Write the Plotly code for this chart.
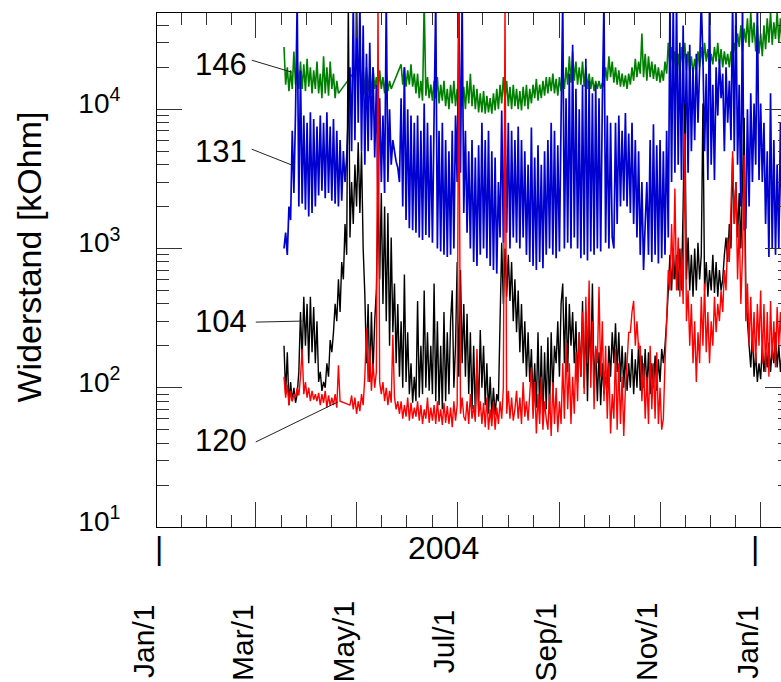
import math
import pandas as pd
import plotly.graph_objects as go

# Daily readings of four resistance sensors, starting 18 March 2004 (kOhm).
# None marks logger outages; the line is bridged across them.
series_start = "2004-03-18"

sensor_131 = [
    1000, 1300, 900, 2000, 1600, 7000, 2500, 9500, 60000, 2000,
    19000, 2100, 9000, 1900, 8000, 1700, 9500, 1800, 8500, 2000,
    7500, 2400, 9000, 2600, 8000, 2300, 9500, 2500, 7500, 2200,
    8500, 2100, 7000, 2000, 6000, 2200, 5000, 3000, 4500, 9000,
    20000, 5000, 60000, 6000, 60000, 8000, 60000, 5000, 40000, 4000,
    25000, 5000, 30000, 6000, 20000, 4500, 15000, 2200, 12000, 3000,
    9000, 2500, 60000, 3000, 10000, 4000, 6000, 5000, 4200, 3800,
    3000, 12000, 2000, 20000, 1600, 10000, 1400, 9000, 1350, 8000,
    1300, 9000, 1200, 7000, 1150, 11000, 1250, 8000, 1200, 6500,
    1100, 9000, 60000, 1000, 7000, 950, 8000, 900, 6000, 870,
    5000, 900, 7000, 1000, 9000, 3000, 60000, 3500, 60000, 1800,
    7000, 1300, 5000, 1000, 6000, 800, 4500, 750, 5500, 900,
    8000, 1000, 6000, 850, 7000, 750, 5000, 700, 4500, 660,
    3000, 1200, 9800, 1100, 9000, 1300, 8000, 1000, 7000, 1200,
    6000, 1100, 7500, 1000, 6000, 1200, 5000, 900, 4000, 800,
    7400, 750, 4500, 700, 5500, 800, 4000, 720, 5000, 900,
    6000, 1000, 8000, 900, 7000, 850, 5500, 950, 8500, 60000,
    1000, 12000, 1100, 18000, 1000, 29000, 1200, 14000, 1000, 10000,
    850, 15000, 900, 23000, 820, 16000, 950, 13000, 900, 15000,
    1000, 12000, 950, 11000, 60000, 1100, 9000, 1000, 8000, 1200,
    1000, 8000, 1500, 9000, 2000, 7000, 2200, 9400, 2000, 6700,
    1800, 8000, 1500, 6000, 1200, 5000, 900, 3000, 700, 1500,
    3000, 900, 6000, 800, 7800, 900, 5500, 780, 6000, 850,
    5000, 900, 7000, 1200, 60000, 3000, 60000, 3500, 60000, 4000,
    30000, 3100, 40000, 4000, 25000, 3500, 29000, 5000, 20000, 6000,
    25000, 8000, 20000, 60000, 23000, 5000, 18000, 3100, 60000, 4000,
    15000, 3100, 20000, 9000, 23000, 12000, 18000, 5000, 20000, 8000,
    16000, 6000, 60000, 5000, 60000, 4000, 15000, 2000, 60000, 1350,
    1400, 10000, 2000, 13000, 3000, 11000, 4000, 60000, 3100, 11000,
    3000, 8000, 1500, 5000, 870, 13000, 1000, 6000, 900, 4000,
    1000, 8000, 1200, 10000, 1500, 9000, 2000, 7000,
]

sensor_146 = [
    28000, 15000, 20000, 13500, 19000, 14000, 26000, 15000, 22000, 14000,
    22000, 14000, 21000, 13500, 23000, 14500, 20000, 13000, 19000, 14000,
    22000, 13000, 18000, 12000, 24000, 13000, 20000, 12500, 22000, 14000,
    18000, 12000, 16000, 13000, None, None, None, None, None, None,
    None, None, None, None, None, None, 21000, 14000, 19000, 13000,
    20000, 13500, 18000, 13000, 20000, 14000, 17000, 13000, 19000, 14000,
    17000, 13000, 18000, 13500, 16000, 14000, 15000, None, None, None,
    None, 21000, 15000, 20000, 14500, 19000, 15000, 21000, 14500, 18000,
    13000, 18000, 12000, 16000, 11500, 60000, 12500, 17000, 12000, 15000,
    11500, 16000, 12000, 17000, 11000, 15000, 11500, 16000, 10500, 14000,
    10000, 15000, 11000, 16000, 10500, 14000, 9800, 15000, 10500, 14500,
    10000, 16000, 11000, 18000, 10500, 15000, 10000, 14000, 9500, 13000,
    9500, 13500, 9300, 12500, 9500, 12000, 9300, 13000, 9800, 14000,
    10000, 15000, 11000, 17000, 11500, 16000, 10500, 14500, 10000, 15000,
    10500, 14000, 10000, 13500, 9800, 14500, 10500, 15000, 10000, 14000,
    11000, 15000, 12000, 16500, 11500, 15000, 12000, 16000, 12500, 17000,
    13000, 17000, 13500, 18000, 13000, 16500, 12500, 17000, 13500, 18000,
    14000, 20000, 15000, 24000, 15500, 26000, 16000, 22000, 15000, 20000,
    15000, 22000, 14500, 20000, 14000, 18000, 14000, 17000, 13500, 16000,
    14000, 16000, 14000, 15500, 14500, 20000, 16000, 24000, 17000, 22000,
    15500, 20000, 15000, 19000, 14500, 18000, 14500, 17500, 14000, 18000,
    15000, 20000, 16000, 23000, 17000, 22000, 18000, 35000, 17000, 25000,
    16000, 24000, 17000, 22000, 16500, 21000, 16000, 20000, 15500, 19000,
    16000, 22000, 18000, 30000, 20000, 28000, 19000, 26000, 18000, 25000,
    18000, 28000, 20000, 30000, 19000, 26000, 18500, 24000, 18000, 23000,
    19000, 26000, 20000, 28000, 21000, 30000, 22000, 27000, 20000, 25000,
    21000, 28000, 22000, 30000, 21000, 27000, 20000, 26000, 21000, 25000,
    20000, 26000, 22000, 30000, 25000, 35000, 28000, 40000, 26000, 38000,
    30000, 45000, 28000, 50000, 30000, 42000, 26000, 40000, 25000, 35000,
    24000, 40000, 27000, 45000, 30000, 50000, 29000, 42000, 32000, 50000,
    30000, 45000, 28000, 40000, 30000, 48000, 32000, 45000,
]

sensor_104 = [
    200, 90, 180, 75, 110, 80, 100, 78, 90, 130,
    350, 160, 450, 200, 400, 150, 450, 180, 380, 150,
    300, 110, 130, 95, 110, 100, 150, 120, 220, 180,
    250, 400, 300, 600, 350, 800, 600, 1500, 900, 60000,
    1200, 3000, 1500, 4000, 2000, 5800, 1800, 5000, 1000, 470,
    150, 400, 110, 350, 130, 300, 500, 2200, 600, 2500,
    400, 2000, 300, 1800, 200, 1200, 250, 560, 150, 400,
    120, 300, 100, 650, 110, 250, 90, 150, 78, 120,
    80, 420, 85, 200, 90, 500, 100, 250, 95, 200,
    90, 560, 80, 300, 75, 200, 70, 350, 80, 250,
    90, 300, 500, 100, 200, 800, 120, 700, 150, 400,
    120, 340, 90, 250, 70, 200, 65, 150, 70, 260,
    100, 200, 75, 150, 65, 120, 62, 100, 64, 90,
    80, 300, 1100, 400, 1000, 450, 900, 420, 800, 300,
    600, 250, 500, 180, 400, 150, 300, 120, 250, 110,
    190, 80, 150, 72, 250, 65, 200, 60, 180, 70,
    230, 65, 250, 90, 200, 150, 300, 120, 400, 560,
    150, 450, 130, 400, 200, 350, 150, 300, 110, 250,
    120, 420, 100, 350, 80, 300, 150, 560, 100, 190,
    80, 180, 75, 150, 90, 120, 100, 200, 120, 250,
    150, 290, 130, 250, 110, 200, 100, 180, 95, 150,
    100, 190, 90, 160, 100, 210, 95, 170, 100, 190,
    95, 180, 90, 150, 100, 170, 95, 160, 110, 190,
    150, 200, 300, 500, 900, 500, 1000, 600, 900, 500,
    1000, 500, 2000, 11000, 600, 1200, 500, 900, 450, 1000,
    500, 1100, 600, 900, 11000, 500, 800, 450, 700, 500,
    900, 480, 800, 450, 700, 500, 600, 900, 1200, 800,
    1500, 1000, 4500, 1500, 3000, 1200, 2500, 1000, 3000, 8700,
    500, 300, 200, 140, 250, 120, 180, 110, 150, 115,
    200, 130, 180, 140, 210, 130, 190, 150, 250, 140,
    200, 130, 180, 150, 200, 140, 180, 150,
]

sensor_120 = [
    120, 85, 105, 75, 95, 80, 90, 85, 100, 88,
    120, 190, 90, 110, 85, 100, 80, 95, 82, 90,
    80, 92, 75, 90, 78, 95, 72, 88, 74, 85,
    75, 90, 72, 145, 80, None, None, None, None, None,
    75, 88, 70, 85, 65, 80, 68, 90, 75, 120,
    270, 110, 200, 95, 150, 100, 130, 60000, 110, 90,
    110, 80, 100, 75, 95, 78, 240, 85, 70, 80,
    65, 80, 60, 75, 62, 85, 58, 78, 60, 72,
    62, 80, 58, 75, 55, 70, 60, 85, 56, 72,
    58, 75, 55, 80, 57, 70, 54, 78, 56, 74,
    55, 72, 52, 80, 58, 75, 60000, 65, 85, 62,
    58, 80, 55, 90, 60, 75, 57, 190, 62, 80,
    55, 78, 52, 85, 50, 70, 53, 80, 50, 72,
    55, 80, 60, 100, 60000, 65, 95, 60, 85, 58,
    70, 95, 60, 85, 55, 110, 62, 80, 58, 90,
    140, 60, 110, 47, 90, 55, 120, 50, 80, 60,
    50, 90, 45, 110, 55, 100, 48, 80, 55, 150,
    60, 210, 70, 150, 55, 120, 65, 180, 80, 250,
    120, 350, 90, 450, 150, 590, 100, 300, 70, 200,
    150, 530, 120, 300, 80, 200, 60, 150, 47, 90,
    60, 190, 50, 150, 55, 120, 45, 100, 150, 250,
    250, 350, 420, 200, 300, 190, 200, 80, 150, 60,
    120, 55, 200, 70, 150, 60, 180, 55, 100, 50,
    60, 150, 300, 700, 500, 1500, 600, 2700, 500, 1200,
    450, 1000, 400, 6700, 300, 500, 200, 400, 150, 300,
    110, 250, 150, 450, 200, 560, 180, 350, 150, 300,
    200, 450, 250, 400, 300, 500, 350, 700, 500, 1200,
    800, 2000, 5000, 1500, 3000, 600, 1500, 400, 900, 4700,
    300, 560, 200, 450, 180, 350, 150, 400, 200, 500,
    150, 400, 130, 350, 120, 420, 160, 300, 140, 380,
    200, 350, 150, 400, 180, 300, 160, 350,
]

# Sensor labels with the point their leader line points at
label_names = ["146", "131", "104", "120"]
label_dates = ["2004-03-22 17:00", "2004-03-24 12:00", "2004-03-28 19:00", "2004-04-19 14:00"]
label_values = [18450, 3900, 301, 79]
leader_dx = [-40, -43, -46, -82]      # tail offset from the pointed-at spot, px
leader_dy = [-12, -17, 1, 40]         # px, positive = downward
text_dx = [-70.5, -73.5, -81, -117]
text_dy = [8, 15, 0, -39]

# Axis ticks
month_ticks = ["2004-01-01", "2004-03-01", "2004-05-01", "2004-07-01",
               "2004-09-01", "2004-11-01", "2005-01-01"]
month_labels = ["Jan/1", "Mar/1", "May/1", "Jul/1", "Sep/1", "Nov/1", "Jan/1"]
decade_ticks = [10, 100, 1000, 10000]
decade_labels = ["10<sup>1</sup>", "10<sup>2</sup>", "10<sup>3</sup>", "10<sup>4</sup>"]
year_label = "2004"

x_range = ["2004-01-01", "2005-01-18 19:00"]
y_range = [1, 4.691]

# Minor date ticks split each two-month interval into quarters
edges = [pd.Timestamp(t) for t in month_ticks] + [pd.Timestamp("2005-03-01")]
minor_x = []
for a, b in zip(edges[:-1], edges[1:]):
    for k in (1, 2, 3):
        minor_x.append(a + (b - a) * k / 4)
minor_y = [m * 10 ** d for d in range(1, 5) for m in range(2, 10)]

W, H = 800, 682
ML, MR, MT, MB = 157, 10, 13, 155
plot_w = W - ML - MR
plot_h = H - MT - MB

font = "Liberation Sans, Arial, sans-serif"
fig = go.Figure()

traces = [
    (sensor_146, "#008000", "146", 1.6),
    (sensor_131, "#0000d0", "131", 1.7),
    (sensor_104, "#000000", "104", 1.4),
    (sensor_120, "#ff0000", "120", 1.4),
]
for values, color, name, lw in traces:
    dates = pd.date_range(series_start, periods=len(values), freq="D")
    fig.add_trace(go.Scatter(
        x=dates, y=values, mode="lines", name=name,
        line=dict(color=color, width=lw, simplify=False), connectgaps=True,
        hoverinfo="skip",
    ))


def to_paper(d, v):
    """Position of a (date, value) pair as a fraction of the plot area."""
    t0, t1 = pd.Timestamp(x_range[0]), pd.Timestamp(x_range[1])
    px = (pd.Timestamp(d) - t0) / (t1 - t0)
    py = (math.log10(v) - y_range[0]) / (y_range[1] - y_range[0])
    return px, py


annotations = []
shapes = []
for name, d, v, ldx, ldy, tdx, tdy in zip(label_names, label_dates, label_values,
                                           leader_dx, leader_dy, text_dx, text_dy):
    px, py = to_paper(d, v)
    shapes.append(dict(type="line", xref="paper", yref="paper",
                       x0=px + ldx / plot_w, y0=py - ldy / plot_h, x1=px, y1=py,
                       line=dict(color="#222", width=1)))
    annotations.append(dict(x=px, y=py, xref="paper", yref="paper", text=name,
                            showarrow=False, xshift=tdx, yshift=tdy,
                            xanchor="center", yanchor="middle",
                            font=dict(family=font, size=31, color="black")))

for d, lab in zip(month_ticks, month_labels):
    annotations.append(dict(x=d, y=-0.2237, xref="x", yref="paper", text=lab,
                            showarrow=False, textangle=-90, xanchor="center",
                            yanchor="middle", xshift=-13,
                            font=dict(family=font, size=30, color="black")))

annotations.append(dict(x="2004-06-22 12:00", y=-0.0414, xref="x", yref="paper",
                        text=year_label, showarrow=False, xanchor="center",
                        yanchor="middle", font=dict(family=font, size=32, color="black")))
for d, sh in (("2004-01-01", 2), ("2005-01-01", -6)):
    annotations.append(dict(x=d, y=-0.0414, xref="x", yref="paper", text="|",
                            showarrow=False, xanchor="center", yanchor="middle",
                            xshift=sh, font=dict(family=font, size=32, color="black")))

annotations.append(dict(x=-0.2022, y=0.5243, xref="paper", yref="paper",
                        text="Widerstand [kOhm]", showarrow=False, textangle=-90,
                        xanchor="center", yanchor="middle",
                        font=dict(family=font, size=34, color="black")))

fig.update_layout(
    width=W, height=H,
    margin=dict(l=ML, r=MR, t=MT, b=MB),
    paper_bgcolor="white", plot_bgcolor="white",
    showlegend=False,
    font=dict(family=font, color="black"),
    annotations=annotations,
    shapes=shapes,
    xaxis=dict(
        type="date", range=x_range,
        showline=True, linecolor="black", linewidth=1, mirror="ticks",
        ticks="inside", ticklen=25, tickwidth=1, tickcolor="#333",
        tickmode="array", tickvals=month_ticks, showticklabels=False,
        showgrid=False, zeroline=False,
        minor=dict(tickmode="array", tickvals=minor_x, ticks="inside",
                   ticklen=12, tickwidth=1, tickcolor="#333", showgrid=False),
    ),
    yaxis=dict(
        type="log", range=y_range,
        showline=True, linecolor="black", linewidth=1, mirror="ticks",
        ticks="inside", ticklen=25, tickwidth=1, tickcolor="#333",
        tickmode="array", tickvals=decade_ticks, ticktext=decade_labels,
        tickfont=dict(family=font, size=28, color="black"),
        ticklabelstandoff=30, ticklabelshift=-6,
        showgrid=False, zeroline=False,
        minor=dict(tickmode="array", tickvals=minor_y, ticks="inside",
                   ticklen=12, tickwidth=1, tickcolor="#333", showgrid=False),
    ),
)

fig.write_html(
    "out.html",
    config={"displayModeBar": False},
    post_script="document.documentElement.style.overflow='hidden';"
                "document.body.style.overflow='hidden';",
)
